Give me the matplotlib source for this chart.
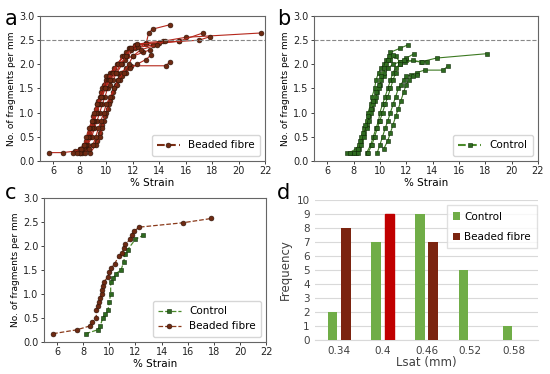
import matplotlib
matplotlib.use('Agg')
import matplotlib.pyplot as plt
import numpy as np

# ---- panel a: beaded fibre, individual samples (strain %, fragments per mm)
beaded_x = [
    [5.7, 6.7, 7.6, 8.0, 8.3, 8.5, 8.7, 8.9, 9.0, 9.2, 9.4, 9.6, 9.8, 10.0, 10.3, 10.6, 10.9, 11.3, 11.7, 12.2, 13.0, 14.3, 16.0, 21.7],
    [7.5, 8.0, 8.5, 8.8, 9.0, 9.1, 9.2, 9.3, 9.5, 9.7, 10.0, 10.2, 10.5, 10.9, 11.2, 11.5, 11.8, 12.3, 15.5, 17.3],
    [8.0, 8.3, 8.6, 8.9, 9.1, 9.3, 9.5, 9.7, 9.9, 10.1, 10.3, 10.5, 10.8, 11.2, 11.6, 12.2, 13.0, 13.2, 13.5, 14.8],
    [8.6, 9.0, 9.3, 9.5, 9.7, 9.9, 10.1, 10.3, 10.5, 10.7, 10.9, 11.0, 11.1, 11.5, 11.9, 14.5, 14.8],
    [8.2, 8.5, 8.7, 8.9, 9.1, 9.3, 9.5, 9.7, 9.9, 10.1, 10.4, 10.8, 11.3, 11.9, 12.4, 13.5, 14.0, 15.5],
    [8.0, 8.2, 8.4, 8.6, 8.8, 9.0, 9.2, 9.4, 9.6, 9.9, 10.2, 10.5, 10.9, 11.4, 12.0, 12.8, 13.3],
    [8.8, 9.2, 9.5, 9.7, 9.8, 10.0, 10.2, 10.4, 10.6, 10.8, 11.0, 11.2, 11.5, 11.8, 12.3, 13.0, 13.4],
    [7.8, 8.1, 8.3, 8.5, 8.7, 8.9, 9.1, 9.3, 9.6, 9.9, 10.3, 10.7, 11.1, 11.5, 11.9, 12.3, 17.0, 17.8],
    [8.4, 8.7, 9.0, 9.2, 9.4, 9.6, 9.8, 10.0, 10.3, 10.6, 10.9, 11.3, 11.7, 12.0, 12.6, 13.8, 14.4],
]
beaded_y = [
    [0.17, 0.17, 0.2, 0.25, 0.33, 0.42, 0.58, 0.75, 0.92, 1.08, 1.25, 1.42, 1.58, 1.75, 1.83, 1.92, 2.0, 2.17, 2.33, 2.4, 2.45, 2.48, 2.56, 2.65],
    [0.17, 0.25, 0.33, 0.5, 0.67, 0.83, 1.0, 1.17, 1.33, 1.5, 1.67, 1.75, 1.83, 2.0, 2.17, 2.25, 2.33, 2.4, 2.48, 2.65],
    [0.17, 0.25, 0.33, 0.5, 0.67, 0.83, 1.0, 1.17, 1.33, 1.5, 1.58, 1.67, 1.83, 2.0, 2.17, 2.33, 2.42, 2.65, 2.73, 2.82],
    [0.25, 0.33, 0.42, 0.58, 0.75, 0.92, 1.08, 1.25, 1.42, 1.58, 1.67, 1.75, 1.83, 1.92, 1.97, 1.97, 2.05],
    [0.17, 0.33, 0.5, 0.67, 0.83, 1.0, 1.17, 1.33, 1.5, 1.67, 1.83, 2.0, 2.17, 2.3, 2.35, 2.4, 2.45, 2.48],
    [0.17, 0.25, 0.33, 0.5, 0.67, 0.83, 1.0, 1.17, 1.33, 1.5, 1.67, 1.83, 2.0, 2.1, 2.17, 2.25, 2.3],
    [0.17, 0.33, 0.5, 0.67, 0.83, 1.0, 1.17, 1.33, 1.5, 1.58, 1.67, 1.75, 1.83, 1.92, 2.0, 2.1, 2.2],
    [0.17, 0.25, 0.33, 0.5, 0.67, 0.83, 1.0, 1.17, 1.33, 1.5, 1.67, 1.83, 2.0, 2.17, 2.33, 2.42, 2.5, 2.57],
    [0.17, 0.25, 0.33, 0.5, 0.67, 0.83, 1.0, 1.17, 1.33, 1.5, 1.67, 1.83, 2.0, 2.17, 2.3, 2.4, 2.48],
]

# ---- panel b: control, individual samples
control_x = [
    [7.5, 7.9, 8.2, 8.4, 8.6, 8.8, 9.0, 9.2, 9.4, 9.6, 9.8, 10.0, 10.3, 10.6, 11.0, 11.5, 12.0, 13.1, 14.3, 18.1],
    [7.7, 8.2, 8.4, 8.6, 8.8, 9.0, 9.1, 9.3, 9.4, 9.6, 9.7, 9.9, 10.1, 10.3, 10.5, 10.7, 10.8, 11.5, 12.1],
    [8.3, 8.6, 8.8, 9.0, 9.2, 9.3, 9.5, 9.7, 9.9, 10.1, 10.3, 10.5, 10.8, 11.2, 11.5, 12.0, 12.6],
    [9.0, 9.3, 9.5, 9.7, 9.9, 10.0, 10.2, 10.4, 10.6, 10.8, 11.0, 11.2, 11.5, 11.9, 12.5, 13.2, 13.6],
    [9.8, 10.0, 10.2, 10.4, 10.6, 10.8, 11.0, 11.2, 11.4, 11.6, 11.8, 12.0, 12.4, 12.8, 13.4, 14.8, 15.2],
    [10.3, 10.6, 10.8, 11.0, 11.2, 11.4, 11.6, 11.8, 12.0, 12.2, 12.5, 12.8],
    [9.1, 9.4, 9.6, 9.8, 10.0, 10.2, 10.4, 10.6, 10.8, 11.0, 11.2, 11.5, 11.8],
    [8.0, 8.3, 8.5, 8.7, 8.9, 9.1, 9.3, 9.5, 9.7, 9.9, 10.1, 10.3, 10.6, 11.0],
]
control_y = [
    [0.17, 0.17, 0.17, 0.25, 0.42, 0.58, 0.75, 0.92, 1.08, 1.25, 1.42, 1.58, 1.75, 1.92, 2.0, 2.05, 2.08, 2.05, 2.13, 2.22],
    [0.17, 0.25, 0.33, 0.5, 0.67, 0.83, 1.0, 1.17, 1.33, 1.5, 1.67, 1.83, 1.92, 2.0, 2.08, 2.17, 2.25, 2.33, 2.4],
    [0.17, 0.33, 0.5, 0.67, 0.83, 1.0, 1.17, 1.33, 1.5, 1.67, 1.83, 2.0, 2.1, 2.17, 2.05, 2.13, 2.22],
    [0.17, 0.33, 0.5, 0.67, 0.83, 1.0, 1.17, 1.33, 1.5, 1.67, 1.83, 1.92, 2.0, 2.05, 2.08, 2.05, 2.05],
    [0.17, 0.33, 0.5, 0.67, 0.83, 1.0, 1.17, 1.33, 1.5, 1.58, 1.67, 1.75, 1.78, 1.83, 1.88, 1.88, 1.97],
    [0.25, 0.42, 0.58, 0.75, 0.92, 1.08, 1.25, 1.42, 1.58, 1.67, 1.75, 1.78],
    [0.17, 0.33, 0.5, 0.67, 0.83, 1.0, 1.17, 1.33, 1.5, 1.67, 1.83, 2.0, 2.08],
    [0.17, 0.25, 0.42, 0.58, 0.75, 0.92, 1.08, 1.25, 1.42, 1.58, 1.75, 1.92, 2.08, 2.2],
]

# ---- panel c: representative curves
rep_control_x = [8.2, 9.1, 9.3, 9.5, 9.7, 9.9, 10.0, 10.1, 10.1, 10.3, 10.5, 10.9, 11.1, 11.2, 11.4, 12.0, 12.6]
rep_control_y = [0.17, 0.25, 0.33, 0.5, 0.58, 0.67, 0.83, 1.0, 1.25, 1.33, 1.42, 1.5, 1.67, 1.83, 1.92, 2.14, 2.22]
rep_beaded_x = [5.7, 7.5, 8.5, 8.7, 9.0, 9.0, 9.1, 9.2, 9.3, 9.4, 9.45, 9.5, 9.6, 9.9, 10.0, 10.1, 10.4, 10.7,
                11.0, 11.1, 11.2, 11.6, 11.7, 11.9, 12.3, 15.6, 17.8]
rep_beaded_y = [0.17, 0.25, 0.33, 0.42, 0.5, 0.67, 0.75, 0.83, 0.92, 1.0, 1.08, 1.17, 1.25, 1.36, 1.45, 1.53, 1.62,
                1.78, 1.86, 1.95, 2.03, 2.14, 2.22, 2.31, 2.39, 2.48, 2.57]

# ---- panel d: Lsat histogram
lsat_labels = ['0.34', '0.4', '0.46', '0.52', '0.58']
freq_control = [2, 7, 9, 5, 1]
freq_beaded = [8, 9, 7, 0, 0]

green_dark = '#2d6a1f'
brown = '#6e2a12'
red_line = '#b5271b'

plt.rcParams['font.family'] = 'DejaVu Sans'
fig = plt.figure(figsize=(5.5, 3.74), dpi=100)

ax_a = fig.add_axes([0.073, 0.570, 0.409, 0.387])
ax_b = fig.add_axes([0.571, 0.570, 0.407, 0.387])
ax_c = fig.add_axes([0.080, 0.086, 0.404, 0.385])
ax_d = fig.add_axes([0.573, 0.091, 0.405, 0.374])


def style_strain(ax):
    ax.set_xlim(5, 22)
    ax.set_ylim(0, 3.0)
    ax.set_xticks(range(6, 23, 2))
    ax.set_yticks(np.arange(0, 3.01, 0.5))
    ax.tick_params(labelsize=7, length=2.5, width=0.6, pad=1.5, colors='#222222')
    for s in ax.spines.values():
        s.set_color('#666666')
        s.set_linewidth(0.8)
    ax.set_xlabel('% Strain', fontsize=7.5, labelpad=1)
    ax.set_ylabel('No. of fragments per mm', fontsize=6.5, labelpad=2)


# panel a
for xs, ys in zip(beaded_x, beaded_y):
    ax_a.plot(xs, ys, '-', color=red_line, lw=0.8, marker='o', ms=3.5,
              mfc=brown, mec='#2b1208', mew=0.4)
ax_a.axhline(2.5, color='#888888', ls='--', lw=0.8)
ax_a.plot([], [], '--', color='#7a2d14', marker='o', ms=3.5, mfc=brown, mec='#2b1208',
          mew=0.4, label='Beaded fibre')
style_strain(ax_a)
ax_a.legend(loc='lower right', fontsize=7.5, handlelength=2.2, borderpad=0.5)

# panel b
for xs, ys in zip(control_x, control_y):
    ax_b.plot(xs, ys, '-', color='#3d7a22', lw=0.8, marker='s', ms=3.5,
              mfc=green_dark, mec='#0f2a08', mew=0.4)
ax_b.axhline(2.5, color='#888888', ls='--', lw=0.8)
ax_b.plot([], [], '--', color='#4a8a2a', marker='s', ms=3.5, mfc=green_dark, mec='#0f2a08',
          mew=0.4, label='Control')
style_strain(ax_b)
ax_b.legend(loc='lower right', fontsize=7.5, handlelength=2.2, borderpad=0.5)

# panel c
ax_c.plot(rep_control_x, rep_control_y, '--', color='#4a8a2a', lw=0.9, marker='s', ms=3.5,
          mfc=green_dark, mec='#0f2a08', mew=0.4, label='Control')
ax_c.plot(rep_beaded_x, rep_beaded_y, '--', color='#8a3a1a', lw=0.9, marker='o', ms=3.5,
          mfc=brown, mec='#2b1208', mew=0.4, label='Beaded fibre')
style_strain(ax_c)
ax_c.legend(loc='lower right', fontsize=7.5, handlelength=2.2, borderpad=0.5)

# panel d
pos = np.arange(len(lsat_labels))
ax_d.bar(pos - 0.15, freq_control, width=0.22, color='#70ad47', label='Control', zorder=3)
bars = ax_d.bar(pos + 0.15, freq_beaded, width=0.22, color='#7b2410', label='Beaded fibre', zorder=3)
bars[1].set_color('#c00000')
ax_d.set_ylim(0, 10)
ax_d.set_xlim(-0.55, 4.55)
ax_d.set_yticks(range(0, 11))
ax_d.set_xticks(pos)
ax_d.set_xticklabels(lsat_labels)
ax_d.yaxis.grid(True, color='#d9d9d9', lw=0.8, zorder=0)
for s in ['top', 'right', 'left']:
    ax_d.spines[s].set_visible(False)
ax_d.spines['bottom'].set_color('#d9d9d9')
ax_d.tick_params(length=0, labelsize=7.5, colors='#404040', pad=4)
ax_d.set_xlabel('Lsat (mm)', fontsize=8.5, color='#404040', labelpad=0)
ax_d.set_ylabel('Frequency', fontsize=8.5, color='#404040', labelpad=3)
ax_d.legend(loc='upper right', fontsize=7.5, handlelength=0.7, handleheight=0.7,
            borderpad=0.6, labelspacing=1.0, fancybox=False, edgecolor='#d9d9d9',
            handletextpad=0.4, bbox_to_anchor=(1.02, 1.0))

# panel letters
for lab, x, y in [('a', 0.008, 0.948), ('b', 0.503, 0.948), ('c', 0.008, 0.485), ('d', 0.503, 0.485)]:
    fig.text(x, y, lab, fontsize=15, va='center')

fig.savefig('out.png', dpi=100)
